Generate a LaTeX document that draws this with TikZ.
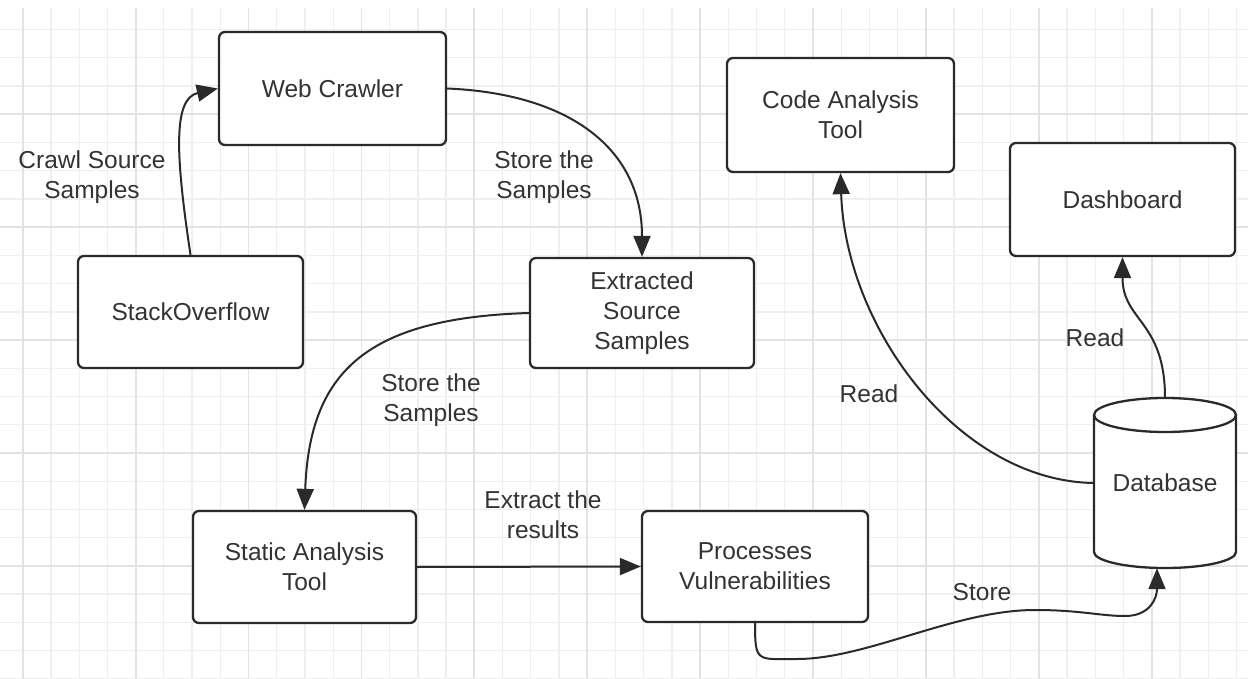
\documentclass[tikz,border=0pt]{standalone}
\usepackage{fontspec}
\setmainfont{Liberation Sans}
\usetikzlibrary{arrows.meta,calc}
\definecolor{ink}{HTML}{2A2A2A}
\definecolor{txt}{HTML}{333333}
\definecolor{gridthin}{HTML}{EFEFEF}
\definecolor{gridbold}{HTML}{E3E3E3}

\begin{document}
\begin{tikzpicture}[x=1pt,y=-1pt,
  every node/.style={font=\fontsize{24.5}{30}\selectfont, text=txt},
  box/.style={draw=ink, line width=2.3pt, rounded corners=6pt, fill=white,
              align=center, inner sep=0pt},
  link/.style={draw=ink, line width=2pt, -{Triangle[length=21pt,width=17pt]}},
  lbl/.style={align=center, inner sep=0pt},
  cyl/.style={draw=ink, line width=2.3pt}]

\useasboundingbox (0,0) rectangle (1248,679);
\fill[white] (0,0) rectangle (1248,679);

% background grid: thin lines every cell, bold lines every fourth cell
\foreach \k in {0,...,43}
  \draw[gridthin, line width=1.3pt] ({22.7+28.225*\k},8) -- ({22.7+28.225*\k},679);
\foreach \k in {-3,...,20}
  \draw[gridthin, line width=1.3pt] (0,{114.3+28.225*\k}) -- (1248,{114.3+28.225*\k});
\foreach \k in {0,4,...,40}
  \draw[gridbold, line width=1.8pt] ({22.7+28.225*\k},8) -- ({22.7+28.225*\k},679);
\foreach \k in {0,4,...,16}
  \draw[gridbold, line width=1.8pt] (0,{114.3+28.225*\k}) -- (1248,{114.3+28.225*\k});

% process boxes
\node[box, minimum width=227pt, minimum height=113pt] (crawler)   at (332.5,88.5) {Web Crawler};
\node[box, minimum width=225pt, minimum height=112pt] (stack)     at (190.5,312)  {StackOverflow};
\node[box, minimum width=224pt, minimum height=110pt] (extracted) at (642,313)    {Extracted\\Source\\Samples};
\node[box, minimum width=227pt, minimum height=114pt] (codetool)  at (840.5,115)  {Code Analysis\\Tool};
\node[box, minimum width=225pt, minimum height=113pt] (dash)      at (1122.5,199.5) {Dashboard};
\node[box, minimum width=223pt, minimum height=112pt] (static)    at (304.5,567)  {Static Analysis\\Tool};
\node[box, minimum width=226pt, minimum height=111pt] (proc)      at (755,566.5)  {Processes\\Vulnerabilities};

% database cylinder
\draw[cyl, fill=white] (1094,415) -- (1094,552)
  arc[start angle=180, end angle=360, x radius=71pt, y radius=16pt]
  -- (1236,415)
  arc[start angle=0, end angle=180, x radius=71pt, y radius=17pt] -- cycle;
\draw[cyl] (1094,415) arc[start angle=180, end angle=360, x radius=71pt, y radius=17pt];
\node[inner sep=0pt, minimum width=142pt, minimum height=170pt] (db) at (1165,483) {Database};

% waypoints of the store connector
\coordinate (s1) at (797,659);
\coordinate (s2) at (1035,610);
\coordinate (s3) at (1125,616);

% connectors
\draw[link] (stack.north) .. controls +(-15,-100) and +(-45,10) .. (crawler.west);
\draw[link] (crawler.east) .. controls +(120,5) and +(0,-110) .. (extracted.north);
\draw[link] (extracted.west) .. controls +(-160,5) and +(5,-140) .. (static.north);
\draw[link] (static.east) -- (proc.west);
\draw[link] (proc.south) .. controls +(0,40) and +(-40,0) .. (s1)
  .. controls +(70,0) and +(-80,0) .. (s2)
  .. controls +(45,0) and +(-25,0) .. (s3)
  .. controls +(25,0) and +(0,30) .. ([xshift=-8pt]db.south);
\draw[link] (db.west) .. controls +(-135,-2) and +(5,155) .. (codetool.south);
\draw[link] (db.north) .. controls +(0,-77) and +(0,64) .. (dash.south);

% connector labels
\node[lbl] (lcrawl)   at (92,177.5)  {Crawl Source\\Samples};
\node[lbl] (lstore1)  at (544,177.5) {Store the\\Samples};
\node[lbl] (lstore2)  at (431,400.5) {Store the\\Samples};
\node[lbl] (lextract) at (543,515)   {Extract the\\results};
\node[lbl] (lstore3)  at (982,592)   {Store};
\node[lbl] (lread1)   at (869,394)   {Read};
\node[lbl] (lread2)   at (1095,338)  {Read};
\end{tikzpicture}
\end{document}
